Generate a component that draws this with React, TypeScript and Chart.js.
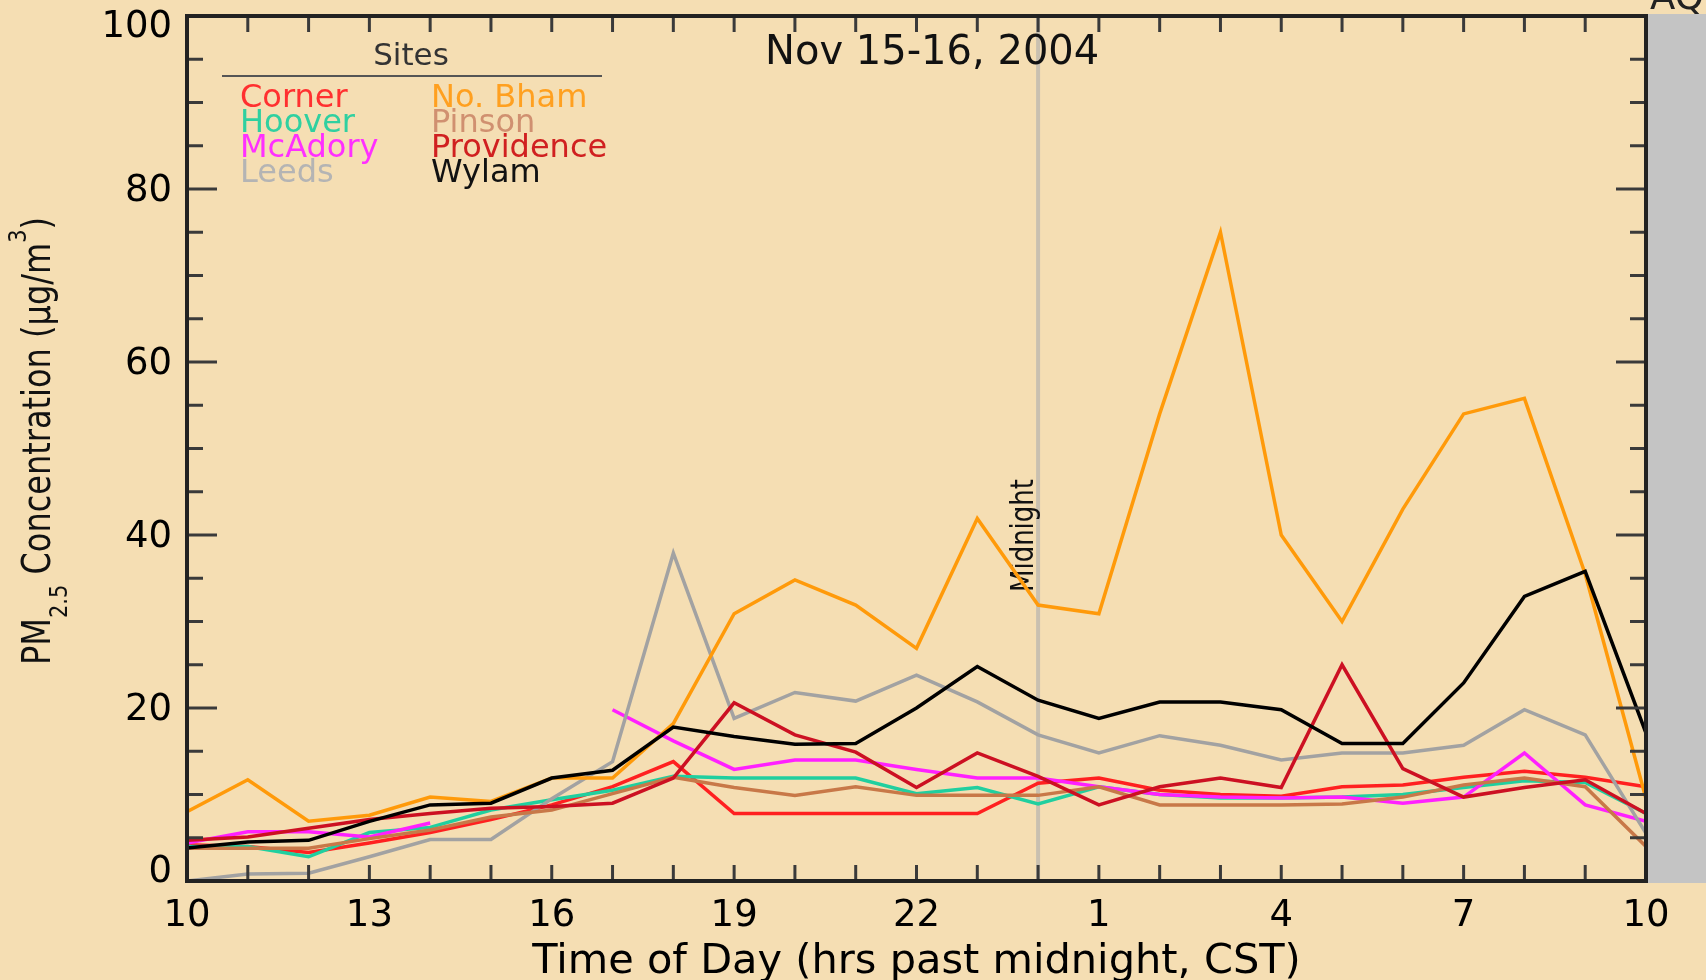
import React, { useEffect, useRef } from "react";
import { Chart, registerables } from "chart.js";

Chart.register(...registerables);

// ---------- data ----------
const hours = [10, 11, 12, 13, 14, 15, 16, 17, 18, 19, 20, 21, 22, 23, 24, 25, 26, 27, 28, 29, 30, 31, 32, 33, 34];

const corner = [4.2, 4.0, 3.3, 4.4, 5.6, 7.1, 8.8, 10.9, 13.8, 7.8, 7.8, 7.8, 7.8, 7.8, 11.3, 11.9, 10.5, 10.0, 9.8, 10.9, 11.1, 12.0, 12.7, 12.0, 10.9];
const hoover = [4.0, 4.0, 2.8, 5.6, 6.2, 8.2, 9.4, 10.5, 12.1, 11.9, 11.9, 11.9, 10.1, 10.8, 8.9, 10.9, 10.0, 9.6, 9.6, 9.7, 10.0, 10.8, 11.6, 11.4, 7.8];
const mcAdory = [4.4, 5.7, 5.7, 5.1, 6.7, null, null, 19.8, 16.2, 12.9, 14.0, 14.0, 12.9, 11.9, 11.9, 10.9, 10.0, 9.7, 9.6, 9.7, 9.0, 9.7, 14.8, 8.8, 6.9];
const leeds = [0, 0.8, 0.9, 2.8, 4.8, 4.8, 9.5, 13.8, 37.9, 18.8, 21.8, 20.8, 23.8, 20.7, 16.9, 14.8, 16.8, 15.7, 14.0, 14.8, 14.8, 15.7, 19.8, 16.9, 5.5];
const noBham = [8.0, 11.7, 6.9, 7.6, 9.7, 9.2, 11.9, 11.9, 18.2, 30.9, 34.8, 31.9, 26.9, 41.9, 31.9, 30.9, 54.0, 75.0, 40.0, 30.0, 43.0, 54.0, 55.8, 35.5, 9.5];
const pinson = [3.8, 3.8, 3.8, 4.9, 5.9, 7.4, 8.2, 10.1, 12.0, 10.8, 9.9, 10.9, 9.9, 9.9, 9.9, 10.9, 8.8, 8.8, 8.8, 8.9, 9.7, 11.1, 11.9, 10.9, 4.0];
const providence = [4.7, 5.1, 6.1, 7.1, 7.8, 8.4, 8.6, 9.0, 11.9, 20.6, 16.9, 14.9, 10.8, 14.8, 12.1, 8.8, 10.9, 11.9, 10.8, 25.0, 13.0, 9.7, 10.8, 11.7, 7.8];
const wylam = [3.8, 4.5, 4.7, 6.9, 8.8, 9.0, 11.9, 12.8, 17.8, 16.7, 15.8, 15.9, 20.0, 24.8, 20.9, 18.8, 20.7, 20.7, 19.8, 15.9, 15.9, 22.9, 32.9, 35.8, 17.1];

const siteNames = ["Corner", "Hoover", "McAdory", "Leeds", "No. Bham", "Pinson", "Providence", "Wylam"];
const siteSeries = [corner, hoover, mcAdory, leeds, noBham, pinson, providence, wylam];
const siteColors = ["#ff2020", "#20cf9f", "#ff20ff", "#a2a2a2", "#ff9a0a", "#c87848", "#cc1022", "#000000"];
const legendColors = ["#ff3030", "#30d0a0", "#ff30ff", "#b4b4b4", "#ffa020", "#d09070", "#d02020", "#111111"];

const xMin = 10;
const xMax = 34;
const xStep = 3;
const yMin = 0;
const yMax = 100;
const yStep = 20;
const yMinorStep = 5;
const midnightHour = 24;

const dateLabel = "Nov 15-16, 2004";
const legendTitle = "Sites";
const xTitle = "Time of Day (hrs past midnight, CST)";
const midnightLabel = "Midnight";
const cornerLabel = "AQI";

const FONT = '"DejaVu Sans", Verdana, sans-serif';
const BG = "#f5deb3";

const decorPlugin = {
  id: "decor",
  beforeDraw(chart: any) {
    const { ctx } = chart;
    ctx.save();
    ctx.fillStyle = BG;
    ctx.fillRect(0, 0, chart.width, chart.height);
    ctx.restore();
  },
  beforeDatasetsDraw(chart: any) {
    const { ctx, chartArea: a, scales } = chart;
    const x = scales.x.getPixelForValue(midnightHour);
    ctx.save();
    ctx.strokeStyle = "#c9c0b0";
    ctx.lineWidth = 4;
    ctx.beginPath();
    ctx.moveTo(x, a.top);
    ctx.lineTo(x, a.bottom);
    ctx.stroke();
    // Midnight label (rotated)
    ctx.translate(x - 5, (a.top + a.bottom) / 2 + 87);
    ctx.rotate(-Math.PI / 2);
    ctx.scale(1, 1.25);
    ctx.font = `26px ${FONT}`;
    ctx.fillStyle = "#111";
    ctx.textAlign = "center";
    ctx.textBaseline = "alphabetic";
    ctx.fillText(midnightLabel, 0, 0);
    ctx.restore();
  },
  afterDatasetsDraw(chart: any) {
    const { ctx, chartArea: a, scales } = chart;
    const xs = scales.x;
    const ys = scales.y;
    ctx.save();

    // gray band at right
    ctx.fillStyle = "#c4c4c4";
    ctx.fillRect(a.right, a.top - 2, chart.width - a.right, a.bottom - a.top + 4);

    // corner label (cut at top)
    ctx.font = `37px ${FONT}`;
    ctx.fillStyle = "#222";
    ctx.textAlign = "left";
    ctx.textBaseline = "alphabetic";
    ctx.fillText(cornerLabel, a.right + 4, 9);

    const line = (x1: number, y1: number, x2: number, y2: number) => {
      ctx.beginPath();
      ctx.moveTo(x1, y1);
      ctx.lineTo(x2, y2);
      ctx.stroke();
    };

    // tick marks
    ctx.strokeStyle = "#3a3a3a";
    ctx.lineWidth = 3;
    for (let h = xMin; h <= xMax; h++) {
      const x = xs.getPixelForValue(h);
      line(x, a.bottom, x, a.bottom - 16);
      line(x, a.top, x, a.top + 16);
    }
    for (let v = yMin; v <= yMax; v += yMinorStep) {
      const y = ys.getPixelForValue(v);
      const len = v % yStep === 0 ? 30 : 16;
      line(a.left, y, a.left + len, y);
      line(a.right, y, a.right - len, y);
    }

    // frame
    ctx.strokeStyle = "#222";
    ctx.lineWidth = 4;
    ctx.strokeRect(a.left, a.top, a.right - a.left, a.bottom - a.top);

    // y tick labels
    ctx.font = `37px ${FONT}`;
    ctx.fillStyle = "#000";
    ctx.textAlign = "right";
    ctx.textBaseline = "middle";
    ys.ticks.forEach((t: any) => {
      let y = ys.getPixelForValue(t.value) + 2;
      if (t.value === yMax) y += 9;
      if (t.value === yMin) y -= 11;
      ctx.fillText(String(t.value), a.left - 15, y);
    });

    // x title
    ctx.font = `41.5px ${FONT}`;
    ctx.textAlign = "center";
    ctx.fillText(xTitle, (a.left + a.right) / 2, 962);

    // date label
    ctx.font = `40px ${FONT}`;
    ctx.fillStyle = "#111";
    ctx.textAlign = "left";
    ctx.fillText(dateLabel, 765, 54);

    // legend
    ctx.font = `31px ${FONT}`;
    ctx.fillStyle = "#333";
    ctx.textAlign = "center";
    ctx.fillText(legendTitle, 411, 57);
    ctx.strokeStyle = "#555";
    ctx.lineWidth = 2;
    line(222, 76, 602, 76);
    ctx.textAlign = "left";
    ctx.font = `32px ${FONT}`;
    const colX = [240, 431];
    const rowY = [99, 124, 149, 174];
    siteNames.forEach((name, i) => {
      const col = Math.floor(i / 4);
      const row = i % 4;
      ctx.fillStyle = legendColors[i];
      ctx.fillText(name, colX[col], rowY[row]);
    });

    // y title with sub/superscript
    ctx.translate(50, 441);
    ctx.rotate(-Math.PI / 2);
    ctx.scale(1, 1.2);
    ctx.fillStyle = "#111";
    ctx.textBaseline = "alphabetic";
    const big = `32px ${FONT}`;
    const small = `21px ${FONT}`;
    const parts: [string, string, number][] = [
      ["PM", big, 0],
      ["2.5", small, 14],
      [" Concentration (\u00b5g/m", big, 0],
      ["3", small, -20],
      [")", big, 0],
    ];
    let total = 0;
    parts.forEach(([t, f]) => {
      ctx.font = f;
      total += ctx.measureText(t).width;
    });
    let cx = -total / 2;
    parts.forEach(([t, f, dy]) => {
      ctx.font = f;
      ctx.fillText(t, cx, dy);
      cx += ctx.measureText(t).width;
    });

    ctx.restore();
  },
};

export default function App() {
  const canvasRef = useRef<HTMLCanvasElement | null>(null);

  useEffect(() => {
    if (!canvasRef.current) return;
    const datasets = siteNames.map((name, i) => ({
      label: name,
      data: hours.map((h, j) => ({ x: h, y: siteSeries[i][j] })),
      borderColor: siteColors[i],
      backgroundColor: siteColors[i],
      borderWidth: 3.5,
      pointRadius: 0,
      fill: false,
      tension: 0,
      spanGaps: false,
      order: siteNames.length - i,
    }));

    const chart = new Chart(canvasRef.current, {
      type: "line",
      data: { datasets },
      options: {
        responsive: false,
        animation: false,
        events: [],
        layout: { padding: { left: 0, right: 60, top: 16, bottom: 0 } },
        plugins: {
          legend: { display: false },
          tooltip: { enabled: false },
          title: { display: false },
        },
        scales: {
          x: {
            type: "linear",
            min: xMin,
            max: xMax,
            afterFit: (s: any) => {
              s.height = 99;
            },
            grid: { display: false, drawTicks: false },
            border: { display: false },
            ticks: {
              stepSize: xStep,
              autoSkip: false,
              maxRotation: 0,
              padding: 13,
              color: "#000",
              font: { family: FONT, size: 37 },
              callback: (v: any) => String(Number(v) % 24),
            },
          },
          y: {
            type: "linear",
            min: yMin,
            max: yMax,
            afterFit: (s: any) => {
              s.width = 187;
            },
            grid: { display: false, drawTicks: false },
            border: { display: false },
            ticks: { stepSize: yStep, display: false },
          },
        },
      } as any,
      plugins: [decorPlugin],
    });
    return () => chart.destroy();
  }, []);

  return (
    <div style={{ position: "fixed", left: 0, top: 0, width: 1706, height: 980, background: BG }}>
      <canvas ref={canvasRef} width={1706} height={980} style={{ display: "block" }} />
    </div>
  );
}
